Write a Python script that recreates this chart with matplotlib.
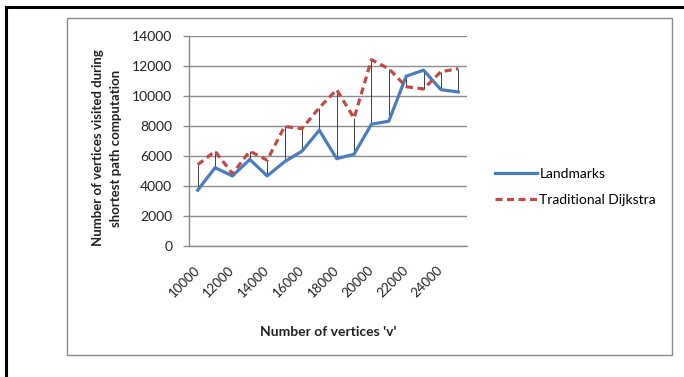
import matplotlib
matplotlib.use("Agg")
import matplotlib.pyplot as plt
import numpy as np

plt.rcParams['font.family'] = ['Lato', 'DejaVu Sans']

vertices = [10000, 11000, 12000, 13000, 14000, 15000, 16000, 17000,
            18000, 19000, 20000, 21000, 22000, 23000, 24000, 25000]
landmarks = [3700, 5200, 4650, 5750, 4650, 5600, 6300, 7700,
             5800, 6100, 8100, 8300, 11300, 11700, 10400, 10250]
dijkstra = [5400, 6300, 4800, 6300, 5700, 7950, 7800, 9200,
            10400, 8500, 12400, 11800, 10600, 10450, 11600, 11800]
y_ticks = [0, 2000, 4000, 6000, 8000, 10000, 12000, 14000]

W, H = 684, 377
fig = plt.figure(figsize=(W / 100, H / 100), dpi=100)

# outer frame: black lines top and left, gray inner chart border
fig.add_artist(plt.Line2D([6 / W, 1], [1 - 7 / H, 1 - 7 / H], color='black', lw=2.2))
fig.add_artist(plt.Line2D([6 / W, 6 / W], [0, 1 - 7 / H], color='black', lw=2.2))
fig.add_artist(plt.Rectangle((67 / W, 1 - 355 / H), (672 - 67) / W, (355 - 18) / H,
                             fill=False, ec='#8c8c8c', lw=1.0))

ax = fig.add_axes([189 / W, 1 - 245.7 / H, (467 - 189) / W, (245.7 - 35.7) / H])
x = np.arange(len(vertices))

ax.vlines(x, landmarks, dijkstra, color='#404040', lw=0.7, zorder=2)
ax.plot(x, landmarks, color='#4A7EBB', lw=2.3, label='Landmarks', zorder=3,
        solid_joinstyle='round')
ax.plot(x, dijkstra, color='#BE4B48', lw=2.3, ls=(0, (2.2, 1.4)),
        label='Traditional Dijkstra', zorder=3)

ax.set_xlim(-0.5, len(vertices) - 0.5)
ax.set_ylim(0, 14000)
ax.set_yticks(y_ticks)
ax.set_yticklabels([str(v) for v in y_ticks])
ax.yaxis.grid(True, color='#8c8c8c', lw=1.0)
ax.set_axisbelow(True)

ax.set_xticks(x[::2])
ax.set_xticklabels([str(v) for v in vertices[::2]], rotation=45, ha='right',
                   va='center', rotation_mode='anchor')
ax.tick_params(axis='x', length=0, pad=16, labelsize=9.5, colors='#222222')
ax.tick_params(axis='y', length=4, width=1, color='#8c8c8c', labelsize=10,
               colors='#222222', pad=8)

for s in ['top', 'right']:
    ax.spines[s].set_visible(False)
for s in ['left', 'bottom']:
    ax.spines[s].set_color('#8c8c8c')
    ax.spines[s].set_linewidth(1.0)

ax.set_xlabel("Number of vertices 'v'", fontsize=10, fontweight='bold',
              color='#222222', labelpad=19)
fig.text(107 / W, 1 - 148 / H,
         "Number of vertices visited during\nshortest path computation",
         rotation=90, ha='center', va='center', fontsize=9.5, fontweight='bold',
         color='#222222', linespacing=1.55)

leg = fig.legend(loc='center left', bbox_to_anchor=(488 / W, 1 - 187 / H),
                 frameon=False, fontsize=10, handlelength=3.0, handletextpad=0.2,
                 labelspacing=1.0, borderpad=0)

fig.savefig('out.png', dpi=100)
